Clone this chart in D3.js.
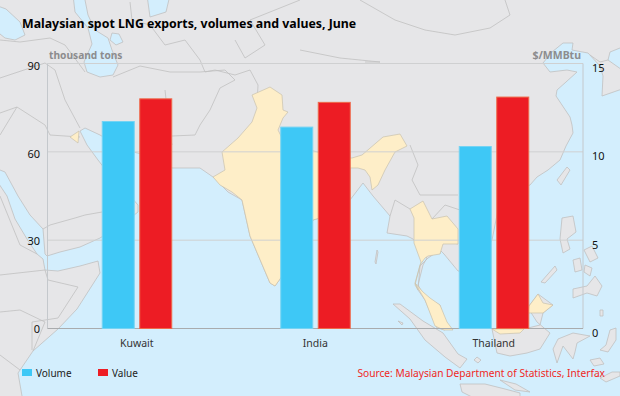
<!DOCTYPE html>
<html>
<head>
<meta charset="utf-8">
<script src="https://cdn.jsdelivr.net/npm/d3@7"></script>
<style>
    html, body { margin: 0; padding: 0; background: #d3eefd; }
    svg { display: block; font-family: "Noto Sans", sans-serif; }
</style>
</head>
<body>
<div id="chart"></div>
<script>
const categories = ['Kuwait', 'India', 'Thailand'];
const volumes = [70.3, 68.4, 61.8];
const values = [13.0, 12.8, 13.1];
const volumeTicks = [0, 30, 60, 90];
const valueTicks = [0, 5, 10, 15];

// background map, traced by hand in page pixels
const landShapes = [
    // Eurasia
    [[-5,-5],[625,-5],[625,46],[610,52],[608,60],[625,72],[625,88],[602,96],[603,76],[600,66],[588,53],[572,50],[573,43],[563,43],[552,52],[543,63],[550,72],[567,70],[577,72],[566,82],[557,90],[556,96],[570,117],[572,125],[573,133],[566,146],[560,160],[548,170],[537,177],[530,185],[515,190],[500,196],[497,215],[492,240],[480,262],[466,272],[458,271],[444,254],[440,250],[428,258],[420,266],[418,290],[425,300],[437,328],[445,330],[444,320],[440,305],[425,297],[418,285],[423,265],[427,258],[417,245],[413,239],[407,236],[387,233],[390,216],[373,196],[363,183],[350,200],[330,215],[313,220],[300,250],[280,279],[275,286],[270,283],[250,236],[242,200],[228,192],[213,177],[200,168],[172,168],[165,160],[150,156],[125,150],[100,135],[85,128],[80,131],[87,145],[98,160],[112,178],[125,190],[138,205],[138,212],[120,226],[100,238],[80,247],[60,252],[47,256],[45,254],[43,229],[30,215],[18,196],[5,172],[-5,168]],
    // Africa
    [[-5,178],[7,196],[15,219],[27,239],[37,254],[43,259],[45,270],[58,271],[80,266],[98,261],[100,273],[77,309],[58,329],[33,351],[18,373],[22,396],[22,401],[-5,401]],
    // Sumatra
    [[393,304],[400,304],[423,321],[443,333],[458,354],[467,359],[460,368],[445,357],[425,340],[410,319]],
    // Java
    [[460,384],[485,384],[505,389],[520,393],[520,401],[480,401],[462,392]],
    // Borneo
    [[492,329],[497,353],[510,356],[527,353],[540,349],[550,333],[537,322],[530,311],[529,306],[538,294],[553,305],[543,313],[540,325],[528,328],[500,330]],
    // Sulawesi
    [[558,339],[573,333],[590,336],[577,343],[575,352],[573,359],[563,346],[557,363],[553,349]],
    // Luzon
    [[562,218],[573,216],[576,232],[567,239],[570,249],[563,253],[560,239]],
    // Mindanao
    [[595,276],[602,286],[597,296],[587,293],[573,298],[573,289],[587,286]],
    // Palawan
    [[555,266],[557,270],[545,283],[541,282]],
    // Visayas
    [[573,260],[580,258],[582,270],[575,272]],
    [[584,250],[592,246],[598,258],[590,262]],
    [[585,265],[592,268],[590,276],[584,272]],
    // Taiwan
    [[567,167],[570,170],[561,185],[557,180]],
    // small islands
    [[377,250],[378,252],[376,264],[375,262]],
    [[477,357],[481,360],[478,363],[474,360]],
    [[398,321],[403,323],[402,325]],
    [[600,350],[606,345],[610,330],[616,328],[616,340],[608,352]],
    [[590,360],[600,358],[604,364],[594,366]],
    [[600,378],[612,372],[620,372],[620,376],[606,382]],
    [[500,380],[516,384],[530,392],[515,390]],
    [[600,310],[603,310],[603,316],[600,316]]
];

const inlandSeas = [
    // Black Sea
    [[-5,5],[6,9],[20,22],[25,35],[15,40],[5,38],[-5,30]],
    // Caspian
    [[73,-5],[84,-5],[88,15],[95,30],[108,38],[112,50],[118,65],[113,75],[100,77],[87,72],[84,62],[92,44],[88,28],[75,12]],
    // Aral
    [[112,33],[119,34],[123,42],[116,45],[110,40]],
    // Balkhash-like lake
    [[147,-5],[170,-5],[166,12],[150,17]]
];

const highlighted = [
    // Kuwait
    [[70,137],[79,131],[78,143]],
    // India
    [[270,87],[282,95],[283,110],[288,112],[283,118],[278,130],[283,140],[292,148],[310,150],[340,158],[352,158],[362,155],[383,137],[400,134],[407,146],[395,152],[385,170],[378,185],[372,190],[370,177],[365,170],[358,168],[350,168],[350,200],[330,215],[313,220],[300,250],[280,279],[275,286],[270,283],[250,236],[242,200],[232,192],[220,185],[213,177],[225,170],[222,152],[238,138],[252,122],[257,108],[252,95]],
    // Thailand
    [[410,209],[423,201],[432,219],[447,216],[458,229],[458,244],[443,244],[440,254],[428,256],[425,258],[420,265],[415,285],[418,290],[415,283],[421,262],[414,243],[414,218]],
    // Malaysia
    [[415,283],[423,292],[430,298],[440,305],[447,322],[453,330],[444,330],[435,326],[425,300]],
    [[529,306],[538,294],[543,303],[553,305],[543,313],[528,313]],
    [[492,329],[524,329],[520,333],[500,334]]
];

const borderLines = [
    [[0,40],[20,42],[50,38],[65,45],[85,72]],
    [[0,78],[45,63],[55,70],[65,100],[80,128]],
    [[0,113],[17,107],[45,125],[50,135],[80,137]],
    [[0,135],[17,107]],
    [[130,2],[132,20],[150,25],[165,45],[185,40],[200,60],[205,72],[215,70],[235,75]],
    [[113,77],[140,66],[170,72],[200,72],[225,70],[235,80],[220,88],[210,110],[200,125],[195,135],[172,136]],
    [[165,90],[170,135],[172,145]],
    [[235,75],[250,70],[258,85],[257,105]],
    [[235,40],[245,58],[265,45],[250,20],[300,0]],
    [[360,0],[395,20],[425,30],[455,35],[490,28],[510,15],[505,0]],
    [[300,50],[340,58],[380,62],[365,62]],
    [[410,145],[418,165],[412,180],[420,195],[445,195],[458,195]],
    [[43,229],[50,225],[75,218],[85,215],[102,212]],
    [[0,312],[20,310],[45,322],[33,351]],
    [[0,275],[45,270],[48,280],[78,287],[58,318],[32,322],[32,350]],
    [[0,355],[20,370]],
    [[0,196],[20,245],[37,254]],
    [[390,216],[395,200],[410,209]],
    [[458,244],[440,240],[440,254]],
    [[432,219],[445,205],[460,210]],
    [[590,55],[600,62],[608,60]]
];

const width = 620;
const height = 396;
const plot = { left: 47.5, right: 583, top: 63.5, bottom: 328.5 };

const svg = d3.select('#chart').append('svg')
    .attr('width', width)
    .attr('height', height);

const shape = d3.line();

const map = svg.append('g').attr('id', 'map');
map.selectAll('.land').data(landShapes).join('path')
    .attr('class', 'land')
    .attr('d', d => shape(d) + 'Z')
    .attr('fill', '#e6e6e8')
    .attr('stroke', '#c0c0c0')
    .attr('stroke-width', 0.8);
map.selectAll('.lake').data(inlandSeas).join('path')
    .attr('class', 'lake')
    .attr('d', d => shape(d) + 'Z')
    .attr('fill', '#d3eefd')
    .attr('stroke', '#c0c0c0')
    .attr('stroke-width', 0.8);
map.selectAll('.border').data(borderLines).join('path')
    .attr('class', 'border')
    .attr('d', shape)
    .attr('fill', 'none')
    .attr('stroke', '#c0c0c0')
    .attr('stroke-width', 0.8);
map.selectAll('.highlight').data(highlighted).join('path')
    .attr('class', 'highlight')
    .attr('d', d => shape(d) + 'Z')
    .attr('fill', '#feeec8')
    .attr('stroke', '#c9c2ad')
    .attr('stroke-width', 0.7);

const groupScale = d3.scaleBand()
    .domain(categories)
    .range([plot.left, plot.right]);
const volumeScale = d3.scaleLinear()
    .domain([0, 90])
    .range([plot.bottom, plot.top]);
const valueScale = d3.scaleLinear()
    .domain([0, 15])
    .range([plot.bottom, plot.top]);

// frame and gridlines
const frame = svg.append('g').attr('id', 'frame');
frame.selectAll('.grid').data(volumeTicks.slice(1)).join('line')
    .attr('class', 'grid')
    .attr('x1', plot.left)
    .attr('x2', plot.right)
    .attr('y1', d => volumeScale(d))
    .attr('y2', d => volumeScale(d))
    .attr('stroke', '#cfd0d1');
frame.selectAll('.side').data([plot.left, plot.right]).join('line')
    .attr('class', 'side')
    .attr('x1', d => d)
    .attr('x2', d => d)
    .attr('y1', plot.top)
    .attr('y2', plot.bottom)
    .attr('stroke', '#c4c8cc');
frame.append('line')
    .attr('x1', plot.left)
    .attr('x2', plot.right)
    .attr('y1', plot.bottom)
    .attr('y2', plot.bottom)
    .attr('stroke', '#a9abad');

// bars
const barWidth = 32;
const bars = svg.append('g').attr('id', 'bars');
bars.selectAll('.volume').data(volumes).join('rect')
    .attr('class', 'volume')
    .attr('x', (d, i) => groupScale(categories[i]) + groupScale.bandwidth() / 2 - 34.5)
    .attr('y', d => volumeScale(d))
    .attr('width', barWidth)
    .attr('height', d => plot.bottom - volumeScale(d))
    .attr('fill', '#3ec8f6')
    .attr('stroke', '#74d3f3')
    .attr('stroke-width', 1);
bars.selectAll('.value').data(values).join('rect')
    .attr('class', 'value')
    .attr('x', (d, i) => groupScale(categories[i]) + groupScale.bandwidth() / 2 + 3)
    .attr('y', d => valueScale(d))
    .attr('width', barWidth)
    .attr('height', d => plot.bottom - valueScale(d))
    .attr('fill', '#ed1c24')
    .attr('stroke', '#ee6a4a')
    .attr('stroke-width', 1);

// axes
const leftAxis = svg.append('g')
    .attr('transform', `translate(${plot.left},0)`)
    .call(d3.axisLeft(volumeScale).tickValues(volumeTicks).tickSize(0).tickPadding(7.5));
const rightAxis = svg.append('g')
    .attr('transform', `translate(${plot.right},4.5)`)
    .call(d3.axisRight(valueScale).tickValues(valueTicks).tickSize(0).tickPadding(9));
const bottomAxis = svg.append('g')
    .attr('transform', `translate(0,${plot.bottom})`)
    .call(d3.axisBottom(groupScale).tickSize(0).tickPadding(11));
[leftAxis, rightAxis, bottomAxis].forEach(axis => {
    axis.select('.domain').remove();
    axis.selectAll('text')
        .attr('font-family', '"Noto Sans", sans-serif')
        .attr('font-size', 11)
        .attr('fill', '#111');
});
bottomAxis.selectAll('text').attr('fill', '#333').attr('font-size', 10.5);
// labels of the left axis sit a little under their gridlines towards the top
leftAxis.selectAll('text').attr('transform', d => `translate(0,${0.5 + d / 90 * 2})`);

// titles
svg.append('text')
    .attr('x', 22)
    .attr('y', 28)
    .attr('font-size', 12.35)
    .attr('font-weight', 700)
    .attr('fill', '#000')
    .text('Malaysian spot LNG exports, volumes and values, June');
svg.append('text')
    .attr('x', 49)
    .attr('y', 59)
    .attr('font-size', 10.2)
    .attr('font-weight', 700)
    .attr('fill', '#8c8c8e')
    .text('thousand tons');
svg.append('text')
    .attr('x', 581)
    .attr('y', 59)
    .attr('text-anchor', 'end')
    .attr('font-size', 10.5)
    .attr('font-weight', 700)
    .attr('fill', '#8c8c8e')
    .text('$/MMBtu');

// legend
const legendItems = [
    { label: 'Volume', color: '#3ec8f6', x: 22 },
    { label: 'Value', color: '#ed1c24', x: 98 }
];
const legend = svg.selectAll('.legend').data(legendItems).join('g')
    .attr('class', 'legend')
    .attr('transform', d => `translate(${d.x},369)`);
legend.append('rect')
    .attr('width', 10)
    .attr('height', 7)
    .attr('fill', d => d.color);
legend.append('text')
    .attr('x', 14)
    .attr('y', 8)
    .attr('font-size', 10)
    .attr('fill', '#222')
    .text(d => d.label);

svg.append('text')
    .attr('x', 605)
    .attr('y', 377)
    .attr('text-anchor', 'end')
    .attr('font-size', 10.2)
    .attr('fill', '#f0281e')
    .text('Source: Malaysian Department of Statistics, Interfax');
</script>
</body>
</html>
